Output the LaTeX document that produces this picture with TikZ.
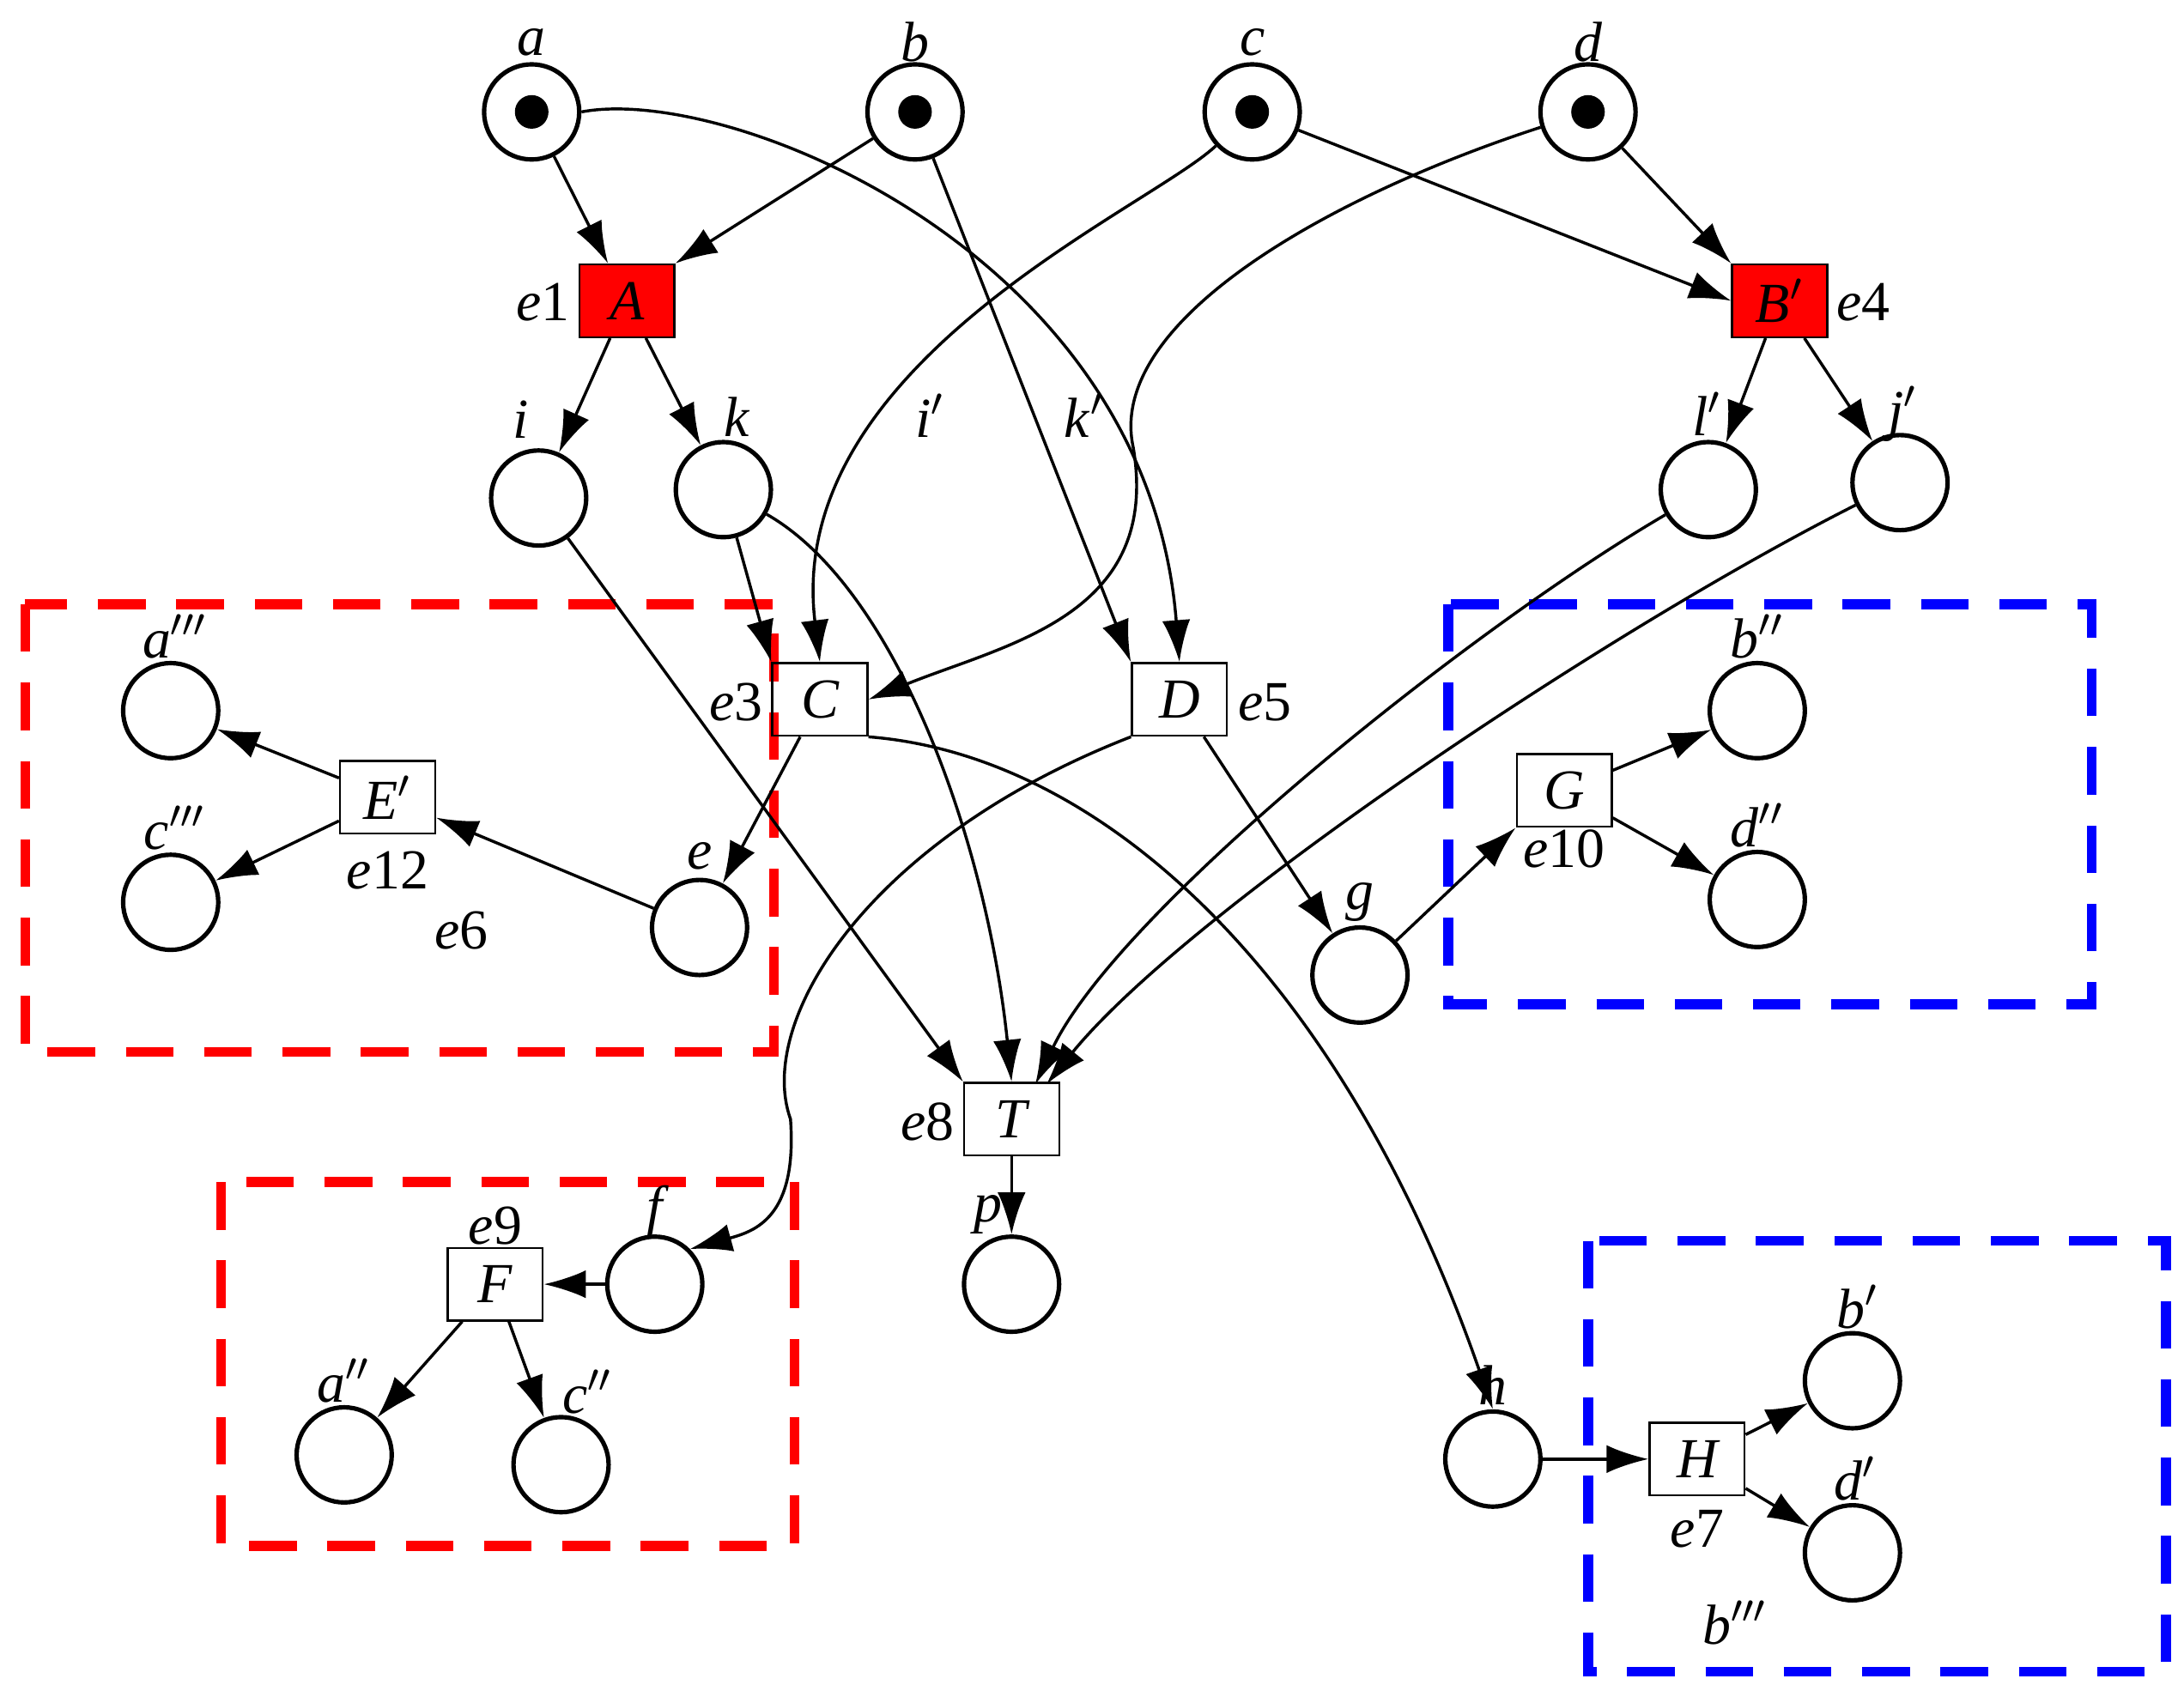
\documentclass[tikz,border=0pt]{standalone}
\usepackage{fontspec}
\setmainfont{Liberation Serif}
\usetikzlibrary{arrows.meta}
\begin{document}
\begin{tikzpicture}[x=0.1mm,y=-0.1mm,
 pl/.style={circle,draw,line width=0.9pt,minimum size=6.8mm,inner sep=0},
 tr/.style={rectangle,draw,line width=0.4pt,minimum width=6.8mm,minimum height=5.2mm,inner sep=0,font=\fontsize{11.5}{12}\selectfont\itshape},
 red tr/.style={tr,fill=red},
 tok/.style={circle,fill=black,minimum size=2.4mm,inner sep=0},
 lb/.style={font=\fontsize{11.5}{12}\selectfont},
 e/.style={-{Latex[length=3mm,width=2mm]},line width=0.6pt},
 rbox/.style={draw=red,line width=2pt,dash pattern=on 3.4mm off 2.2mm},
 bbox/.style={draw=blue,line width=2pt,dash pattern=on 3.4mm off 2.2mm}]
\useasboundingbox (0,0) rectangle (1561,1217);
% boxes
\draw[rbox] (18,432) rectangle (553,752);
\draw[rbox] (158,845) rectangle (568,1105);
\draw[bbox] (1035,432) rectangle (1495,718);
\draw[bbox] (1135,887) rectangle (1548,1195);
% places
\foreach \n/\x/\y in {a/380/80,b/654/80,c/895/80,d/1135/80}{
 \node[pl] (\n) at (\x,\y) {}; \node[tok] at (\x,\y) {};}
\node[pl] (i) at (385,356) {};
\node[pl] (k) at (517,350) {};
\node[pl] (l) at (1221,350) {};
\node[pl] (j) at (1358,345) {};
\node[pl] (a3) at (122,508) {};
\node[pl] (c3) at (122,645) {};
\node[pl] (ep) at (500,663) {};
\node[pl] (g) at (972,697) {};
\node[pl] (b2) at (1256,508) {};
\node[pl] (d2) at (1256,643) {};
\node[pl] (p) at (723,918) {};
\node[pl] (f) at (468,918) {};
\node[pl] (a2) at (246,1040) {};
\node[pl] (c2) at (401,1047) {};
\node[pl] (h) at (1067,1043) {};
\node[pl] (b1) at (1324,987) {};
\node[pl] (d1) at (1324,1110) {};
% transitions
\node[red tr] (A) at (448,215) {A};
\node[red tr] (B) at (1272,215) {B$'$};
\node[tr] (C) at (586,500) {C};
\node[tr] (D) at (843,500) {D};
\node[tr] (E) at (277,570) {E$'$};
\node[tr] (G) at (1118,565) {G};
\node[tr] (T) at (723,800) {T};
\node[tr] (F) at (354,918) {F};
\node[tr] (H) at (1213,1043) {H};
% labels
\node[lb] at (380,30) {\textit{a}};
\node[lb] at (654,30) {\textit{b}};
\node[lb] at (895,30) {\textit{c}};
\node[lb] at (1135,30) {\textit{d}};
\node[lb] at (388,216) {\textit{e}1};
\node[lb] at (1332,216) {\textit{e}4};
\node[lb] at (372,300) {\textit{i}};
\node[lb] at (527,298) {\textit{k}};
\node[lb] at (1220,296) {\textit{l}$'$};
\node[lb] at (1360,296) {\textit{j}$'$};
\node[lb] at (665,297) {\textit{i}$'$};
\node[lb] at (775,297) {\textit{k}$'$};
\node[lb] at (526,502) {\textit{e}3};
\node[lb] at (904,502) {\textit{e}5};
\node[lb] at (125,455) {\textit{a}$'''$};
\node[lb] at (125,592) {\textit{c}$'''$};
\node[lb] at (500,612) {\textit{e}};
\node[lb] at (277,622) {\textit{e}12};
\node[lb] at (330,665) {\textit{e}6};
\node[lb] at (972,645) {\textit{g}};
\node[lb] at (1118,607) {\textit{e}10};
\node[lb] at (1256,455) {\textit{b}$''$};
\node[lb] at (1256,590) {\textit{d}$''$};
\node[lb] at (663,802) {\textit{e}8};
\node[lb] at (706,868) {\textit{p}};
\node[lb] at (354,876) {\textit{e}9};
\node[lb] at (470,866) {\textit{f}};
\node[lb] at (246,987) {\textit{a}$''$};
\node[lb] at (420,995) {\textit{c}$''$};
\node[lb] at (1067,990) {\textit{h}};
\node[lb] at (1213,1093) {\textit{e}7};
\node[lb] at (1328,934) {\textit{b}$'$};
\node[lb] at (1326,1057) {\textit{d}$'$};
\node[lb] at (1240,1160) {\textit{b}$'''$};
% edges
\draw[e] (a) -- (A);
\draw[e] (b) -- (A.north east);
\draw[e] (a.east) .. controls (520,60) and (820,180) .. (D.north);
\draw[e] (b) -- (D.north west);
\draw[e] (c) .. controls (820,150) and (560,260) .. (C.north);
\draw[e] (c) -- (B.west);
\draw[e] (d) -- (B.north west);
\draw[e] (d) .. controls (950,140) and (790,230) .. (810,320) .. controls (830,440) and (720,460) .. (C.east);
\draw[e] (A) -- (i);
\draw[e] (A) -- (k);
\draw[e] (B) -- (l);
\draw[e] (B) -- (j);
\draw[e] (i) -- (T.north west);
\draw[e] (k) -- (C.north west);
\draw[e] (k) .. controls (640,420) and (705,600) .. (T.north);
\draw[e] (l) .. controls (1050,450) and (800,650) .. (740,775);
\draw[e] (j) .. controls (1150,450) and (850,650) .. (748,775);
\draw[e] (C) -- (ep);
\draw[e] (C.south east) .. controls (790,540) and (960,700) .. (h.north);
\draw[e] (D.south west) .. controls (620,600) and (540,730) .. (565,800) .. controls (570,870) and (540,880) .. (f.north east);
\draw[e] (D) -- (g);
\draw[e] (g) -- (G.south west);
\draw[e] (G) -- (b2);
\draw[e] (G) -- (d2);
\draw[e] (ep) -- (E);
\draw[e] (E) -- (a3);
\draw[e] (E) -- (c3);
\draw[e] (f) -- (F);
\draw[e] (F) -- (a2);
\draw[e] (F) -- (c2);
\draw[e] (h) -- (H);
\draw[e] (H) -- (b1);
\draw[e] (H) -- (d1);
\draw[e] (T) -- (p);
\end{tikzpicture}
\end{document}
